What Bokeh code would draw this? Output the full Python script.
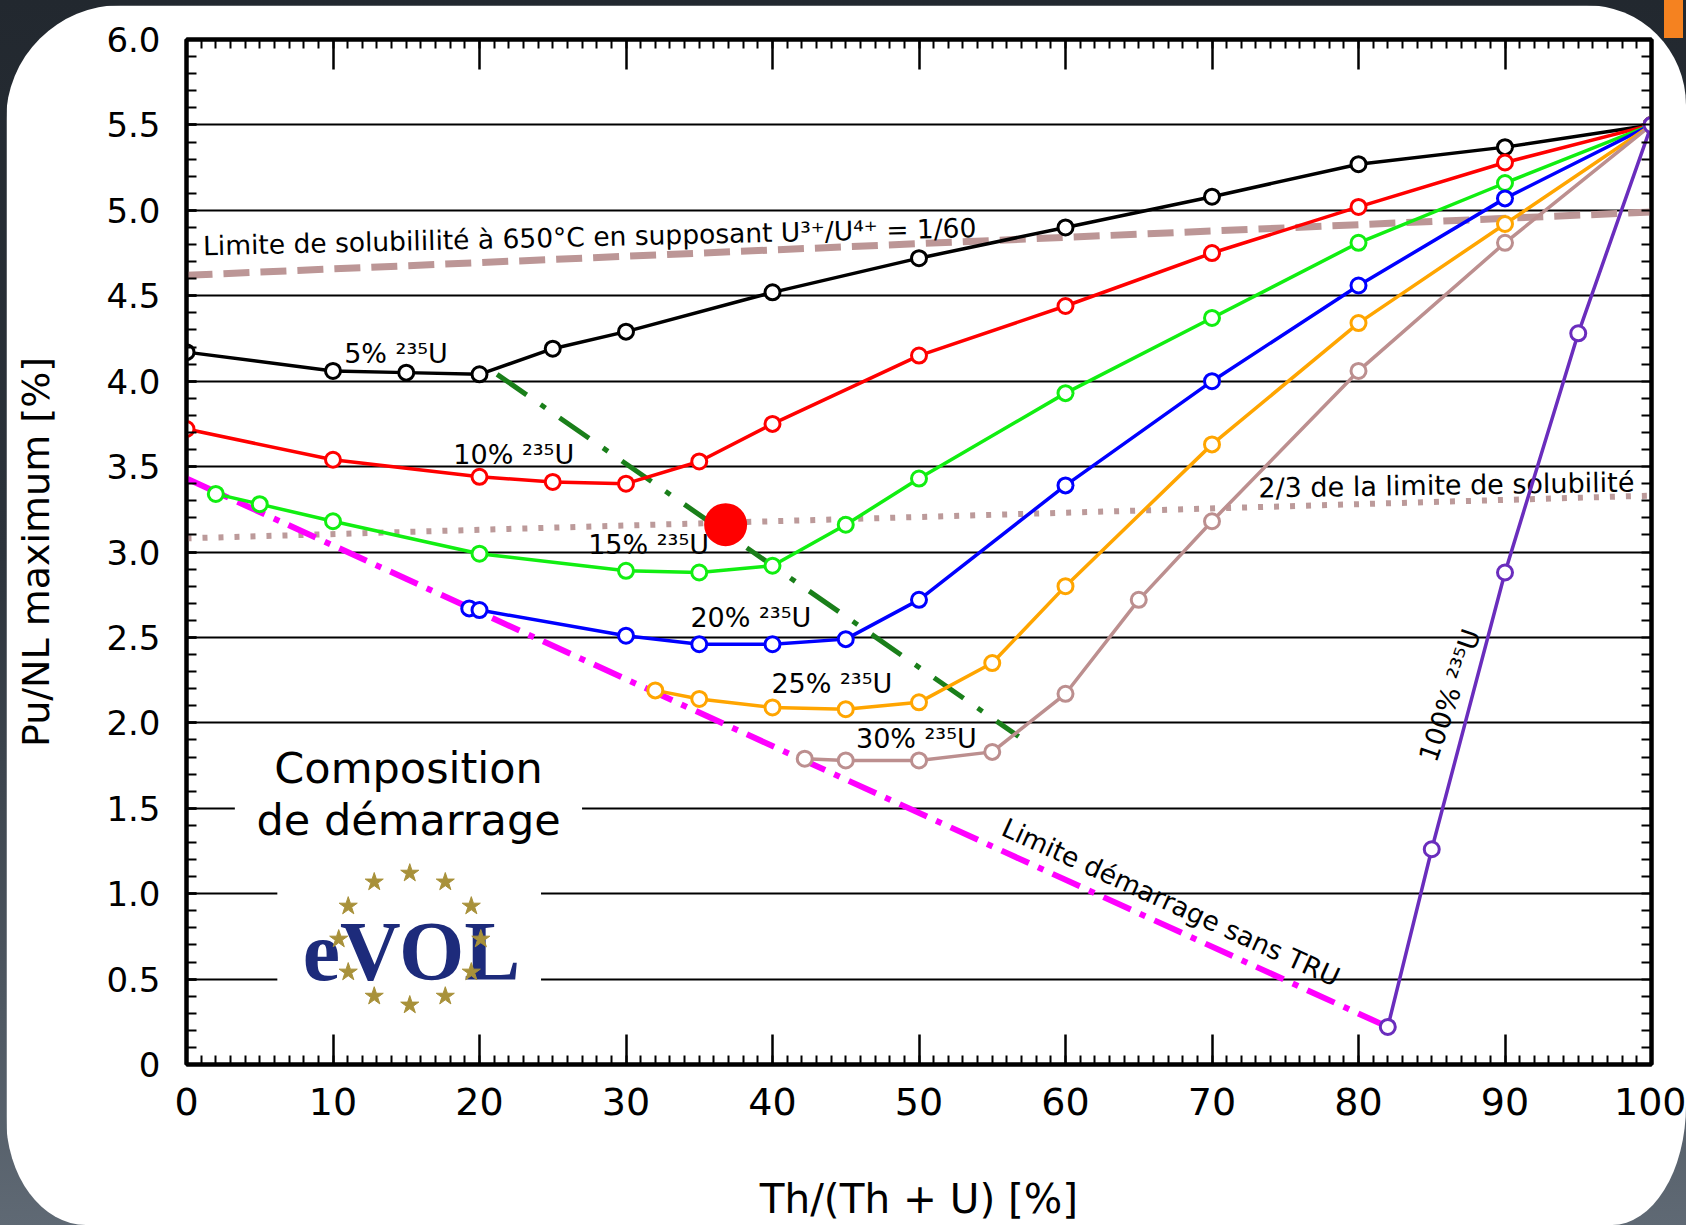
import math
import numpy as np
from bokeh.plotting import figure
from bokeh.models import FixedTicker, LinearAxis, Range1d, GlobalInlineStyleSheet
from bokeh.core.properties import value
from bokeh.embed import file_html
from bokeh.resources import INLINE

FONT = "DejaVu Sans"

# ---------------- data ----------------
x_ticks = [0, 10, 20, 30, 40, 50, 60, 70, 80, 90, 100]
y_ticks = [0, 0.5, 1.0, 1.5, 2.0, 2.5, 3.0, 3.5, 4.0, 4.5, 5.0, 5.5, 6.0]
y_tick_text = ["0", "0.5", "1.0", "1.5", "2.0", "2.5", "3.0", "3.5", "4.0", "4.5", "5.0", "5.5", "6.0"]
grid_levels = [0.5, 1.0, 1.5, 2.0, 2.5, 3.0, 3.5, 4.0, 4.5, 5.0, 5.5]

x_5 = [0, 10, 15, 20, 25, 30, 40, 50, 60, 70, 80, 90, 100]
y_5 = [4.17, 4.06, 4.05, 4.04, 4.19, 4.29, 4.52, 4.72, 4.90, 5.08, 5.27, 5.37, 5.50]

x_10 = [0, 10, 20, 25, 30, 35, 40, 50, 60, 70, 80, 90, 100]
y_10 = [3.72, 3.54, 3.44, 3.41, 3.40, 3.53, 3.75, 4.15, 4.44, 4.75, 5.02, 5.28, 5.50]

x_15 = [2, 5, 10, 20, 30, 35, 40, 45, 50, 60, 70, 80, 90, 100]
y_15 = [3.34, 3.28, 3.18, 2.99, 2.89, 2.88, 2.92, 3.16, 3.43, 3.93, 4.37, 4.81, 5.16, 5.50]

x_20 = [19.3, 20, 30, 35, 40, 45, 50, 60, 70, 80, 90, 100]
y_20 = [2.67, 2.66, 2.51, 2.46, 2.46, 2.49, 2.72, 3.39, 4.00, 4.56, 5.07, 5.50]

x_25 = [32, 35, 40, 45, 50, 55, 60, 70, 80, 90, 100]
y_25 = [2.19, 2.14, 2.09, 2.08, 2.12, 2.35, 2.80, 3.63, 4.34, 4.92, 5.50]

x_30 = [42.2, 45, 50, 55, 60, 65, 70, 80, 90, 100]
y_30 = [1.79, 1.78, 1.78, 1.83, 2.17, 2.72, 3.18, 4.06, 4.81, 5.50]

x_100 = [82, 85, 90, 95, 100]
y_100 = [0.22, 1.26, 2.88, 4.28, 5.50]

# limits
sol_x = [0, 100]
sol_y = [4.62, 4.99]
two_thirds_x = [0, 100]
two_thirds_y = [3.08, 3.33]
start_x = [0, 82]
start_y = [3.43, 0.22]
minpu_x = [21.2, 56.8]
minpu_y = [4.04, 1.92]
red_dot_x = [36.8]
red_dot_y = [3.16]

series = [
    (x_5, y_5, "#000000", "5% ²³⁵U", 14.3, 4.16),
    (x_10, y_10, "#ff0000", "10% ²³⁵U", 22.34, 3.57),
    (x_15, y_15, "#11ee11", "15% ²³⁵U", 31.54, 3.045),
    (x_20, y_20, "#0000ff", "20% ²³⁵U", 38.52, 2.615),
    (x_25, y_25, "#ffa500", "25% ²³⁵U", 44.05, 2.23),
    (x_30, y_30, "#bc8f8f", "30% ²³⁵U", 49.82, 1.908),
]
PURPLE = "#6a2dbd"

# ---------------- figure ----------------
p = figure(width=1680, height=1220, x_range=Range1d(0, 100), y_range=Range1d(0, 6),
           output_backend="svg", toolbar_location=None,
           min_border_left=180, min_border_right=35, min_border_top=34, min_border_bottom=160,
           background_fill_color="white", border_fill_color="white",
           outline_line_color="black", outline_line_width=4)

css = ("html{background:linear-gradient(180deg,#22282f 0%,#2c333b 45%,#5f6974 100%) !important;min-height:100%;}"
       "body{background:transparent !important;}"
       "body::after{content:'';position:fixed;top:0;right:3px;width:19px;height:38px;background:#f58220;}")
p.stylesheets = [GlobalInlineStyleSheet(css=css)]
p.styles = {"margin-left": "6px", "margin-top": "5px", "overflow": "hidden",
            "border-top-left-radius": "115px", "border-top-right-radius": "100px",
            "border-bottom-left-radius": "80px 108px", "border-bottom-right-radius": "74px 120px"}

p.xgrid.visible = False
p.ygrid.ticker = FixedTicker(ticks=grid_levels)
p.ygrid.grid_line_color = "black"
p.ygrid.grid_line_width = 1.8

x_minor = list(range(0, 101))
y_minor = [round(0.1 * i, 1) for i in range(61)]

xa = p.xaxis[0]
xa.ticker = FixedTicker(ticks=x_ticks, minor_ticks=x_minor)
ya = p.yaxis[0]
ya.ticker = FixedTicker(ticks=y_ticks, minor_ticks=y_minor)
ya.major_label_overrides = dict(zip(y_ticks, y_tick_text))

top = LinearAxis(ticker=FixedTicker(ticks=x_ticks, minor_ticks=x_minor),
                 major_label_overrides={t: "" for t in x_ticks},
                 major_label_text_font_size="1px", major_label_standoff=0)
right = LinearAxis(ticker=FixedTicker(ticks=[], minor_ticks=y_minor),
                   major_label_text_font_size="1px", major_label_standoff=0)
p.add_layout(top, "above")
p.add_layout(right, "right")

for ax in (xa, top):
    ax.major_tick_in = 30
    ax.major_tick_out = 0
    ax.minor_tick_in = 9
    ax.minor_tick_out = 0
for ax in (ya, right):
    ax.major_tick_in = 10
    ax.major_tick_out = 0
    ax.minor_tick_in = 10
    ax.minor_tick_out = 0
for ax in (xa, ya, top, right):
    ax.axis_line_width = 4
    ax.major_tick_line_width = 2.5
    ax.minor_tick_line_width = 2
    ax.axis_line_color = "black"
    ax.major_tick_line_color = "black"
    ax.minor_tick_line_color = "black"

xa.major_label_text_font = FONT
xa.major_label_text_font_size = "38px"
xa.major_label_text_color = "black"
xa.major_label_standoff = 23
xa.axis_label = "Th/(Th + U) [%]"
xa.axis_label_text_font = FONT
xa.axis_label_text_font_size = "40.5px"
xa.axis_label_text_font_style = "normal"
xa.axis_label_text_color = "black"
xa.axis_label_standoff = 57

ya.major_label_text_font = FONT
ya.major_label_text_font_size = "34px"
ya.major_label_text_color = "black"
ya.major_label_standoff = 26
ya.axis_label = "Pu/NL maximum [%]"
ya.axis_label_text_font = FONT
ya.axis_label_text_font_size = "38px"
ya.axis_label_text_font_style = "normal"
ya.axis_label_text_color = "black"
ya.axis_label_standoff = 45

# ---------------- boxes behind the "Composition de démarrage" inset ----------------
comp_box = dict(left=[3.3], right=[27.0], bottom=[1.255], top=[1.927])
logo_box = dict(left=[6.2], right=[24.2], bottom=[0.26], top=[1.226])
p.quad(fill_color="white", line_color=None, **comp_box)
p.quad(fill_color="white", line_color=None, **logo_box)

# ---------------- limit lines ----------------
p.line(sol_x, sol_y, line_color="#bc9696", line_width=7, line_dash="26 11")
p.line(two_thirds_x, two_thirds_y, line_color="#bc9a9a", line_width=6, line_dash="5 11")

# ---------------- texts ----------------
def txt(x, y, s, size, angle=0.0, color="black", font=FONT, align="center",
        baseline="middle", style="normal"):
    p.text(x=[x], y=[y], text=[s], angle=math.radians(angle), text_color=color,
           text_font=value(font), text_font_size=size, text_align=align,
           text_baseline=baseline, text_font_style=style)

txt(27.52, 4.846, "Limite de solubililité à 650°C en supposant U³⁺/U⁴⁺ = 1/60", "26.5px", angle=1.35)
txt(86.0, 3.392, "2/3 de la limite de solubilité", "27px", angle=0.9)
txt(67.2, 0.95, "Limite démarrage sans TRU", "26.5px", angle=-24.5)
txt(86.23, 2.161, "100% ²³⁵U", "27px", angle=71)
for xs, ys, col, lab, lx, ly in series:
    txt(lx, ly, lab, "27px")

txt(15.16, 1.738, "Composition", "43px")
txt(15.16, 1.43, "de démarrage", "43px")

# logo
ring_x = 15.24 + 4.85 * np.cos(np.radians(np.arange(0, 360, 30)))
ring_y = 0.734 + 0.386 * np.sin(np.radians(np.arange(0, 360, 30)))
txt(15.36, 0.664, "eVOL", "84px", color="#1d2b7b", font="Liberation Serif", style="bold")
p.scatter(ring_x, ring_y, marker="star", size=19, fill_color="#a8913a", line_color="#a8913a")

# ---------------- dash-dot limit lines ----------------
p.line(start_x, start_y, line_color="#ff00ff", line_width=6, line_dash="30 10 6 10")
p.line(minpu_x, minpu_y, line_color="#1a7f1a", line_width=5, line_dash="36 17 6 17")

# ---------------- series ----------------
for xs, ys, col, lab, lx, ly in series:
    p.line(xs, ys, line_color=col, line_width=3.5)
    p.scatter(xs, ys, marker="circle", size=15, fill_color="white", line_color=col, line_width=3)
p.line(x_100, y_100, line_color=PURPLE, line_width=3.5)
p.scatter(x_100, y_100, marker="circle", size=15, fill_color="white", line_color=PURPLE, line_width=3)

# red marker
p.scatter(red_dot_x, red_dot_y, marker="circle", size=43, fill_color="#ff0000", line_color=None)

open("out.html", "w").write(file_html(p, INLINE))
